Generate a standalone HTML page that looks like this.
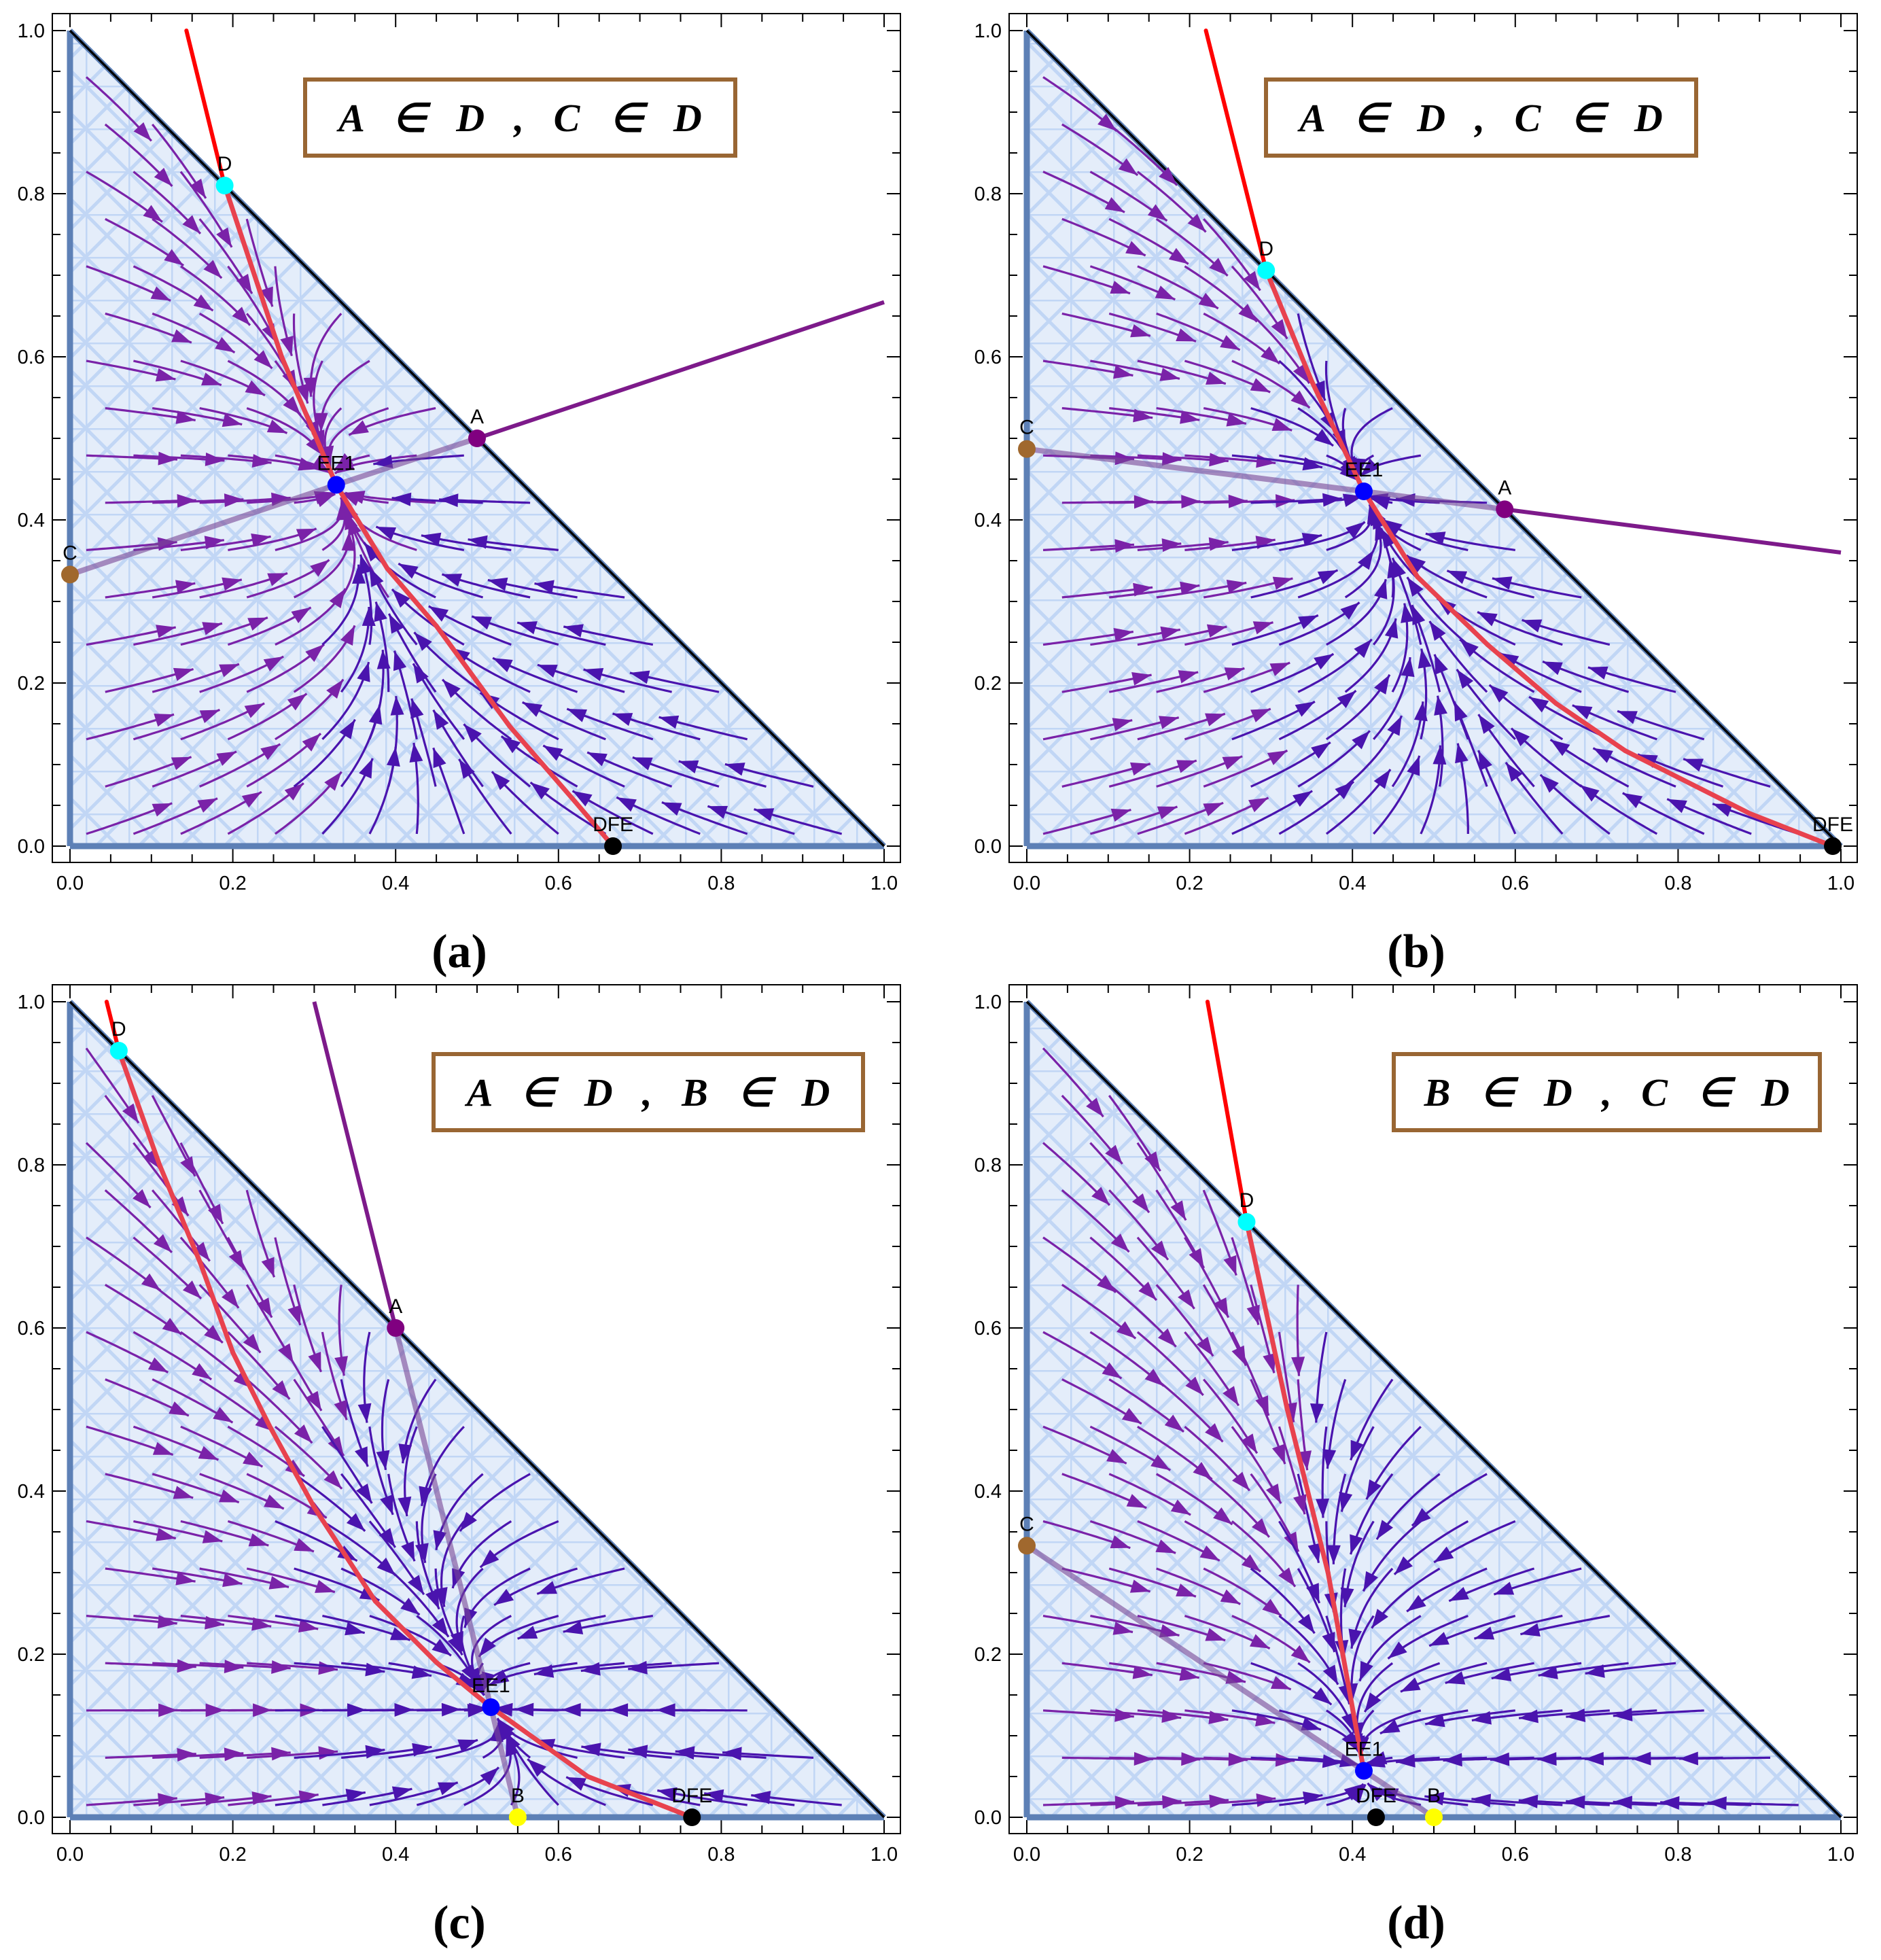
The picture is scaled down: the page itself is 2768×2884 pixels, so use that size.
<!DOCTYPE html>
<html><head><meta charset="utf-8">
<style>
html,body{margin:0;padding:0;background:#fff;}
svg{display:block;}
.tk{font-family:"Liberation Sans",sans-serif;font-size:29px;fill:#000;}
.pl{font-family:"Liberation Sans",sans-serif;font-size:30px;fill:#000;}
.cap{font-family:"Liberation Serif",serif;font-size:70px;font-weight:bold;fill:#000;}
.leg{font-family:"Liberation Serif",serif;font-size:58px;font-style:italic;font-weight:bold;fill:#000;white-space:pre;}
</style></head>
<body>
<svg id="fig" width="2768" height="2884" viewBox="0 0 2768 2884" xmlns="http://www.w3.org/2000/svg">
<defs>
<pattern id="grid" patternUnits="userSpaceOnUse" width="63" height="63">
<rect width="63" height="63" fill="#e4edfa"/>
<path d="M0 0H63M0 0V63M0 63L63 0M0 0L63 63" stroke="#b5cff3" stroke-width="5" opacity="0.75" fill="none"/>
</pattern>
</defs>
</svg>
<script>
// ---- data arrays ----
const panelNames = ['a','b','c','d'];
const legendTexts = ['A   ∈   D   ,   C   ∈   D','A   ∈   D   ,   C   ∈   D','A   ∈   D   ,   B   ∈   D','B   ∈   D   ,   C   ∈   D'];
const tickValues = [0,0.2,0.4,0.6,0.8,1.0];
const tickLabels = ['0.0','0.2','0.4','0.6','0.8','1.0'];
// equilibrium points per panel: [label, x, y, color]
const pointsA = [['D',0.19,0.81,'#00ffff'],['A',0.5,0.5,'#800080'],['EE1',0.327,0.443,'#0000ff'],['C',0,0.333,'#a0682e'],['DFE',0.667,0,'#000000']];
const pointsB = [['D',0.294,0.706,'#00ffff'],['C',0,0.487,'#a0682e'],['EE1',0.414,0.435,'#0000ff'],['A',0.587,0.413,'#800080'],['DFE',0.99,0,'#000000']];
const pointsC = [['D',0.06,0.94,'#00ffff'],['A',0.4,0.6,'#800080'],['EE1',0.517,0.135,'#0000ff'],['B',0.55,0,'#ffff00'],['DFE',0.764,0,'#000000']];
const pointsD = [['D',0.27,0.73,'#00ffff'],['C',0,0.333,'#a0682e'],['EE1',0.414,0.057,'#0000ff'],['DFE',0.429,0,'#000000'],['B',0.5,0,'#ffff00']];
// red nullcline curves (x,y pairs)
const redA = [[0.143,1],[0.19,0.81],[0.26,0.6],[0.327,0.443],[0.39,0.34],[0.45,0.27],[0.54,0.147],[0.62,0.055],[0.667,0]];
const redB = [[0.22,1],[0.294,0.706],[0.35,0.57],[0.414,0.435],[0.48,0.33],[0.566,0.247],[0.65,0.175],[0.735,0.117],[0.888,0.04],[0.99,0]];
const redC = [[0.045,1],[0.06,0.94],[0.11,0.8],[0.16,0.68],[0.2,0.57],[0.245,0.48],[0.3,0.38],[0.375,0.265],[0.45,0.19],[0.517,0.135],[0.636,0.05],[0.764,0]];
const redD = [[0.222,1],[0.27,0.73],[0.32,0.5],[0.37,0.3],[0.414,0.057]];
// purple lines
const purpA = [[0,0.333],[0.327,0.443],[0.5,0.5],[1.0,0.667]];
const purpB = [[0,0.487],[0.414,0.435],[0.587,0.413],[1.0,0.36]];
const purpC = [[0.3,1.0],[0.4,0.6],[0.517,0.135],[0.55,0]];
const purpD = [[0,0.333],[0.414,0.057],[0.5,0]];
const allPoints=[pointsA,pointsB,pointsC,pointsD];
const allRed=[redA,redB,redC,redD];
const allPurp=[purpA,purpB,purpC,purpD];

const NS='http://www.w3.org/2000/svg';
const svg=document.getElementById('fig');
const SX=1198, SY=1200;
const origins=[[103,1245],[1511,1245],[103,2674],[1511,2674]];
const legendBoxes=[[446,114,639,118],[1860,114,639,118],[635,1548,638,118],[2048,1548,633,118]];
function mk(tag,attrs,parent){const e=document.createElementNS(NS,tag);for(const k in attrs)e.setAttribute(k,attrs[k]);(parent||svg).appendChild(e);return e;}

panelNames.forEach((pn,pi)=>{
  const [ox,oy]=origins[pi];
  const X=v=>ox+v*SX, Y=v=>oy-v*SY;
  const g=mk('g',{});
  
  
  const fr=mk('rect',{x:ox-26,y:oy-1225,width:1248,height:1249,fill:'none',stroke:'#000','stroke-width':2},g);
  
  
  for(let i=0;i<=20;i++){
    const v=i*0.05, major=(i%4===0), L=major?20:12;
    mk('line',{x1:X(v),x2:X(v),y1:oy+24,y2:oy+24-L,stroke:'#000','stroke-width':2},g);
    mk('line',{x1:X(v),x2:X(v),y1:oy-1225,y2:oy-1225+L,stroke:'#000','stroke-width':2},g);
    mk('line',{x1:ox-26,x2:ox-26+L,y1:Y(v),y2:Y(v),stroke:'#000','stroke-width':2},g);
    mk('line',{x1:ox+1222,x2:ox+1222-L,y1:Y(v),y2:Y(v),stroke:'#000','stroke-width':2},g);
  }
  tickValues.forEach((v,i)=>{
    const tx=mk('text',{x:X(v),y:oy+64,'text-anchor':'middle',class:'tk'},g);
    tx.textContent=tickLabels[i];
    
    
    const ty=mk('text',{x:ox-37,y:Y(v)+10,'text-anchor':'end',class:'tk'},g);
    ty.textContent=tickLabels[i];
    
    
  });
  const tri=mk('polygon',{points:`${X(0)},${Y(0)} ${X(1)},${Y(0)} ${X(0)},${Y(1)}`,fill:'url(#grid)'},g);
  
  
  mk('line',{x1:X(0),y1:Y(0),x2:X(1),y2:Y(0),stroke:'#5d80b6','stroke-width':9},g);
  mk('line',{x1:X(0),y1:Y(0),x2:X(0),y2:Y(1),stroke:'#5d80b6','stroke-width':9},g);
  mk('line',{x1:X(0),y1:Y(1),x2:X(1),y2:Y(0),stroke:'#5d80b6','stroke-width':8},g);
  mk('line',{x1:X(0),y1:Y(1),x2:X(1),y2:Y(0),stroke:'#000','stroke-width':3.5},g);

  const pts=allPoints[pi];
  const E=pts.find(p=>p[0]==='EE1'), Dp=pts.find(p=>p[0]==='D');
  let tx=Dp[1]-E[1], ty=Dp[2]-E[2]; const tn=Math.hypot(tx,ty); tx/=tn; ty/=tn;
  const fx=1, fy=0, det=tx*fy-ty*fx;
  const vel=(x,y)=>{const dx=x-E[1],dy=y-E[2];
    const a=(dx*fy-dy*fx)/det, b=(tx*dy-ty*dx)/det;
    return [-1*a*tx-3.2*b*fx, -1*a*ty-3.2*b*fy];};
  const inside=(x,y)=>x>=0.003&&y>=0.003&&x+y<=0.997;
  const sg=mk('g',{},g);
  
  
  const step=0.058;
  for(let i=0;i<18;i++)for(let j=0;j<18;j++){
    let x=0.02+i*step+((j%2)*step*0.4), y=0.015+j*step;
    if(!inside(x,y)) continue;
    const path=[[x,y]]; let len=0;
    while(len<0.11){
      const v=vel(x,y); const s=Math.hypot(v[0],v[1]); if(s<0.02)break;
      x+=v[0]/s*0.004; y+=v[1]/s*0.004; len+=0.004;
      if(!inside(x,y))break;
      path.push([x,y]);
    }
    if(path.length<8)continue;
    const col=(x<0.35)?'#7a22a8':'#4a14ae';
    const d='M'+path.map(p=>X(p[0]).toFixed(1)+' '+Y(p[1]).toFixed(1)).join('L');
    const pl=mk('path',{d:d,fill:'none',stroke:col,'stroke-width':3.2},sg);
    
    
    const pN=path[path.length-1], pM=path[path.length-4];
    let ax=X(pN[0])-X(pM[0]), ay=Y(pN[1])-Y(pM[1]); const an=Math.hypot(ax,ay)||1; ax/=an; ay/=an;
    const hx=X(pN[0]), hy=Y(pN[1]);
    const bx=hx-ax*28, by=hy-ay*28;
    const ah=mk('polygon',{points:`${hx},${hy} ${bx-ay*10},${by+ax*10} ${bx+ay*10},${by-ax*10}`,fill:col},sg);
    
    
  }

  const pp=allPurp[pi];
  for(let k=0;k<pp.length-1;k++){
    const a=pp[k],b=pp[k+1];
    const ins=(a[0]+a[1]<=1.001&&b[0]+b[1]<=1.001);
    const ln=mk('line',{x1:X(a[0]),y1:Y(a[1]),x2:X(b[0]),y2:Y(b[1]),stroke:ins?'rgba(120,70,150,0.6)':'#7d1a8a','stroke-width':ins?8:6},g);
    
    
  }
  const rc=allRed[pi];
  for(let k=0;k<rc.length-1;k++){
    const a=rc[k],b=rc[k+1];
    const ins=(a[0]+a[1]<=1.001&&b[0]+b[1]<=1.001);
    const ln=mk('line',{x1:X(a[0]),y1:Y(a[1]),x2:X(b[0]),y2:Y(b[1]),stroke:ins?'#e8424e':'#ff0000','stroke-width':ins?7:6,'stroke-linecap':'round'},g);
    
    
  }
  pts.forEach(p=>{
    const c=mk('circle',{cx:X(p[1]),cy:Y(p[2]),r:13,fill:p[3]},g);
    
    
    const t=mk('text',{x:X(p[1]),y:Y(p[2])-22,'text-anchor':'middle',class:'pl'},g);
    t.textContent=p[0];
    
    
  });
  const lb=legendBoxes[pi];
  const lr=mk('rect',{x:lb[0]+3,y:lb[1]+3,width:lb[2]-6,height:lb[3]-6,fill:'#fff',stroke:'#996633','stroke-width':6},g);
  
  
  const lt=mk('text',{x:lb[0]+lb[2]/2,y:lb[1]+79,'text-anchor':'middle',class:'leg'},g);
  lt.textContent=legendTexts[pi];
  
  
  const cp=mk('text',{x:ox+573,y:oy+178,'text-anchor':'middle',class:'cap'},g);
  cp.textContent='('+pn+')';
  
  
});
</script>
</body></html>
